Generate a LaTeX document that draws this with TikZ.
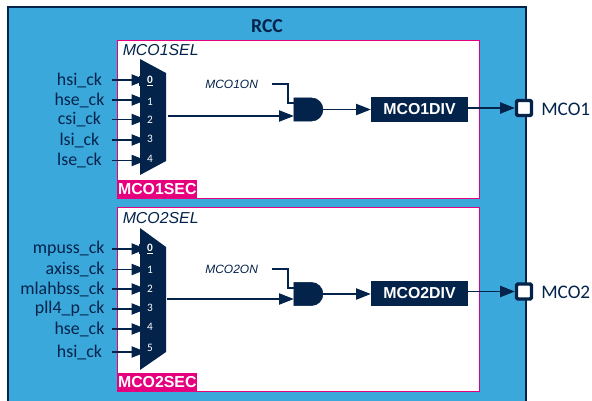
\documentclass[tikz,border=0pt]{standalone}
\usepackage{fontspec}
\setmainfont{Liberation Sans}
\newfontfamily\clkfont{Carlito}
\usetikzlibrary{arrows.meta,shapes.gates.logic.US}
\definecolor{rccblue}{HTML}{3BA8DC}
\definecolor{stnavy}{HTML}{03234B}
\definecolor{stpink}{HTML}{E6007E}
\newcommand{\px}{0.75pt}
\tikzset{
  sig/.style={draw=stnavy, line width=0.8pt, -{Triangle[length=11pt,width=8.5pt]}},
  wire/.style={draw=stnavy, line width=0.8pt},
  selbox/.style={draw=stpink, line width=0.9pt, fill=white, anchor=north west, inner sep=0pt, minimum width=362*\px},
  seclabel/.style={fill=stpink, text=white, anchor=south west, inner sep=0pt, minimum width=80*\px, minimum height=19*\px, font=\fontsize{11.9}{12}\bfseries},
  sellabel/.style={text=stnavy, anchor=west, inner sep=0pt, font=\fontsize{11.9}{12}\itshape},
  onlabel/.style={text=stnavy, anchor=west, inner sep=0pt, font=\fontsize{9}{10}\itshape},
  clklabel/.style={text=stnavy, anchor=east, inner sep=0pt, outer sep=0pt, minimum width=50*\px, align=right, font=\clkfont\fontsize{13.4}{14}\selectfont},
  muxnum/.style={text=white, inner sep=0pt, minimum width=22*\px, font=\clkfont\fontsize{8.5}{9}\selectfont},
  divbox/.style={fill=stnavy, text=white, inner sep=0pt, minimum width=97*\px, minimum height=25*\px, font=\fontsize{11.9}{12}\bfseries},
  andgate/.style={and gate US, draw=stnavy, fill=stnavy, logic gate inputs=nn, inner sep=0pt, minimum width=29*\px, minimum height=23*\px},
  pin/.style={draw=stnavy, line width=2.6pt, fill=white, rounded corners=1pt, inner sep=0pt, minimum size=15*\px},
  pinlabel/.style={text=stnavy, anchor=west, inner sep=0pt, font=\clkfont\fontsize{14.4}{15}\selectfont}
}
\begin{document}
\begin{tikzpicture}[x=\px, y=-\px]
  \useasboundingbox (0,0) rectangle (592,400);
  \clip (0,0) rectangle (592,400);
  % outer block runs off the bottom
  \node[draw=stnavy, line width=1.6pt, fill=rccblue, anchor=north west, inner sep=0pt, minimum width=518*\px, minimum height=420*\px] (rcc) at (7,6) {};
  \node[text=stnavy, inner sep=0pt, font=\clkfont\fontsize{14.8}{15}\bfseries] (rcctitle) at (267,26) {RCC};
  \node[selbox, minimum height=158*\px] (mcoonebox) at (117,40) {};
  \node[selbox, minimum height=184*\px] (mcotwobox) at (117,207) {};
  \node[seclabel] (mcoonesec) at (mcoonebox.south west) {MCO1SEC};
  \node[seclabel] (mcotwosec) at (mcotwobox.south west) {MCO2SEC};
  \node[sellabel] (mcoonesel) at (122.5,50) {MCO1SEL};
  \node[sellabel] (mcotwosel) at (122.5,218) {MCO2SEL};
  % muxes
  \fill[stnavy] (140,59) -- (166,73) -- (166,161) -- (140,175) -- cycle;
  \fill[stnavy] (140,228) -- (166,247) -- (166,352) -- (140,370) -- cycle;
  \coordinate (muxone) at (168,116);
  \coordinate (muxtwo) at (167,299);
  % first mux inputs
  \foreach \nm/\yy/\ny/\tx/\dg in {a/80/81/hsi\_ck/1, b/100/102/hse\_ck/1, c/119.5/120/csi\_ck/2, d/140/139/lsi\_ck/3, e/160.5/159/lse\_ck/4} {
    \node[clklabel] (clk\nm) at (104.5,\yy) {\tx};
    \node[muxnum] (num\nm) at (150,\ny) {\dg};
  }
  \foreach \nm in {a,b,c,d,e} \draw[sig] ([xshift=5.6pt]clk\nm.east) -- ([xshift=5.6pt]clk\nm.east -| num\nm.west);
  % second mux inputs
  \foreach \nm/\yy/\ny/\tx/\dg in {f/249/249/mpuss\_ck/1, g/269.5/270/axiss\_ck/1, h/289/289/mlahbss\_ck/2, i/309/308/pll4\_p\_ck/3, j/329/327/hse\_ck/4, k/352/348/hsi\_ck/5} {
    \node[clklabel] (clk\nm) at (104.5,\yy) {\tx};
    \node[muxnum] (num\nm) at (150,\ny) {\dg};
  }
  \foreach \nm in {f,g,h,i,j,k} \draw[sig] ([xshift=5.6pt]clk\nm.east) -- ([xshift=5.6pt]clk\nm.east -| num\nm.west);
  % the underlined default inputs
  \node[muxnum, fill=stnavy, font=\clkfont\fontsize{8.5}{9}\bfseries] (numzeroa) at (numa) {\underline{0}};
  \node[muxnum, fill=stnavy, font=\clkfont\fontsize{8.5}{9}\bfseries] (numzerof) at (numf) {\underline{0}};
  % MCO1 path
  \node[andgate] (andone) at (307.5,109.5) {};
  \node[divbox] (divone) at (419.5,109) {MCO1DIV};
  \node[pin] (pinone) at (524,108) {};
  \node[pinlabel] (pinonelabel) at (541,109.5) {MCO1};
  \node[onlabel] (ononelabel) at (205,84) {MCO1ON};
  \draw[wire] (ononelabel.east)++(10pt,0) -| (288,103) -- (andone.west |- 0,103);
  \draw[sig] (muxone) -- (andone.west |- muxone);
  \draw[sig] (andone.east) -- (divone.west |- andone.east);
  \draw[sig] (divone.east |- pinone) -- (pinone.west);
  % MCO2 path
  \node[andgate] (andtwo) at (307.5,294) {};
  \node[divbox] (divtwo) at (419.5,293) {MCO2DIV};
  \node[pin] (pintwo) at (524,291.5) {};
  \node[pinlabel] (pintwolabel) at (541,292) {MCO2};
  \node[onlabel] (ontwolabel) at (205,269) {MCO2ON};
  \draw[wire] (ontwolabel.east)++(10pt,0) -| (288,288) -- (andtwo.west |- 0,288);
  \draw[sig] (muxtwo) -- (andtwo.west |- muxtwo);
  \draw[sig] (andtwo.east) -- (divtwo.west |- andtwo.east);
  \draw[sig] (divtwo.east |- pintwo) -- (pintwo.west);
\end{tikzpicture}
\end{document}
